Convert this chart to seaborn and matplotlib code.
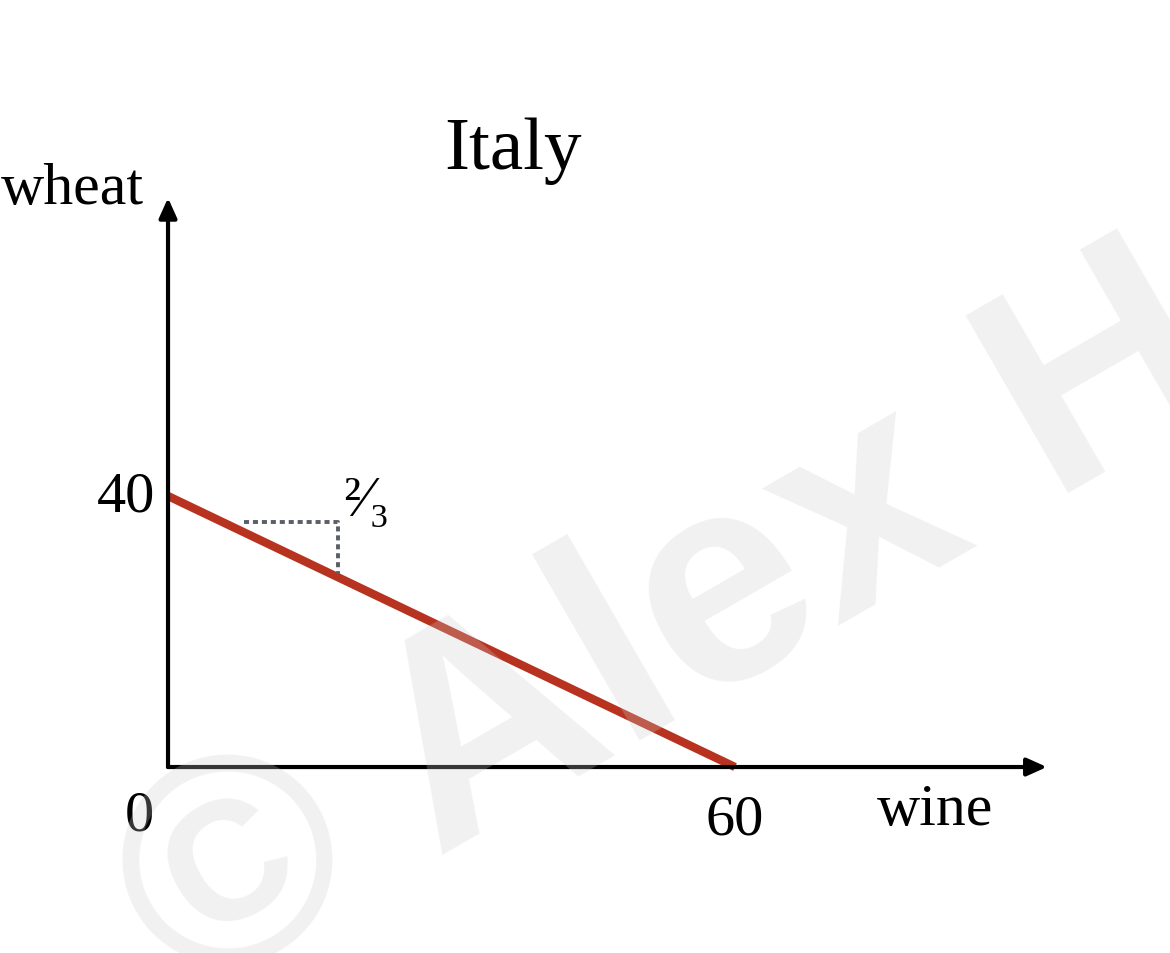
import numpy as np
import pandas as pd
import matplotlib
matplotlib.use("Agg")
import matplotlib.pyplot as plt
import seaborn as sns

sns.set_theme(style="white")
plt.rcParams['font.family'] = ['Liberation Serif', 'DejaVu Serif']
plt.rcParams['text.color'] = 'black'

# data
country = "Italy"
wine = [0, 60]
wheat = [40, 0]
slope_label = "²⁄₃"
tri_x = [8, 18, 18]
tri_y = [36.2, 36.2, 28.5]

df = pd.DataFrame({"wine": wine, "wheat": wheat})
tri = pd.DataFrame({"x": tri_x, "y": tri_y})

fig = plt.figure(figsize=(11.7, 9.54), dpi=100)
ax = fig.add_axes([0, 0, 1, 1])
ax.set_xlim(-17.78, 106.03)
ax.set_ylim(-27.45, 113.36)
ax.axis("off")

# axes with arrows
arrow = dict(arrowstyle="-|>,head_length=1.0,head_width=0.45", color="black", lw=3, shrinkA=0, shrinkB=0)
ax.annotate("", xy=(93, 0), xytext=(0, 0), arrowprops=arrow)
ax.annotate("", xy=(0, 84), xytext=(0, 0), arrowprops=arrow)

# production possibility frontier
sns.lineplot(data=df, x="wine", y="wheat", color="#B83220", lw=6, ax=ax, solid_capstyle="butt")

# slope triangle
sns.lineplot(data=tri, x="x", y="y", sort=False, estimator=None, color="#5a5e66", lw=2.8,
             ls=(0, (1.3, 1.0)), ax=ax)
ax.text(18.5, 39.3, slope_label, fontsize=41, ha="left", va="center")

# labels
ax.text(-1.4, 40, str(wheat[0]), fontsize=42, ha="right", va="center")
ax.text(-3.0, -7.1, "0", fontsize=42, ha="center", va="center")
ax.text(wine[1], -7.8, str(wine[1]), fontsize=42, ha="center", va="center")
ax.text(75, -6.4, "wine", fontsize=43, ha="left", va="center")
ax.text(-17.7, 85.3, "wheat", fontsize=43, ha="left", va="center")
ax.text(36.5, 91.0, country, fontsize=54, ha="center", va="center")

# watermark
fig.text(0.158, -0.052, "© Alex H", fontsize=214, fontweight="bold", family=['Liberation Sans', 'DejaVu Sans'],
         color="#cccccc", alpha=0.27, rotation=30, rotation_mode="anchor", ha="left", va="baseline")

fig.savefig("out.png", dpi=100)
